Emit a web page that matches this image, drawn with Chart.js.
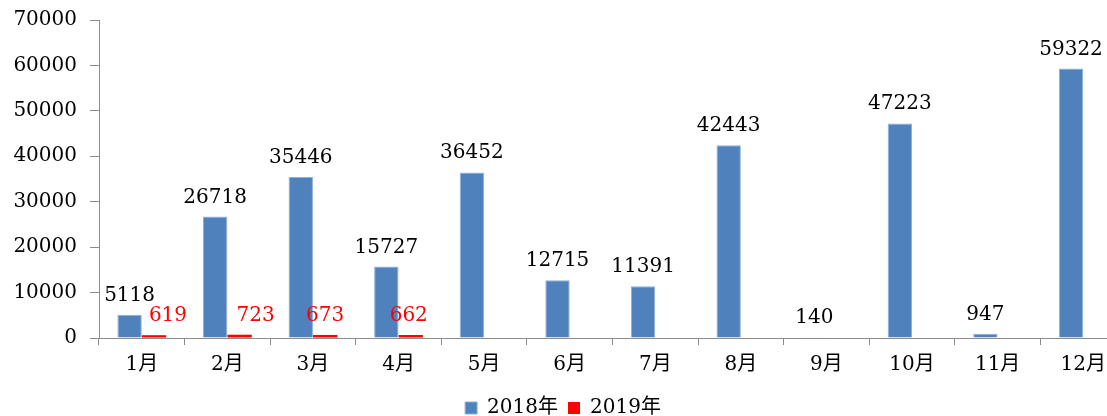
<!DOCTYPE html>
<html>
<head>
<meta charset="utf-8">
<script src="https://cdn.jsdelivr.net/npm/chart.js@4"></script>
<style>
  html, body { margin: 0; padding: 0; background: #fff; overflow: hidden; }
  #c { display: block; }
</style>
</head>
<body>
<canvas id="c" width="1130" height="416"></canvas>
<script>
const categories = ['1月','2月','3月','4月','5月','6月','7月','8月','9月','10月','11月','12月'];
const series2018 = [5118, 26718, 35446, 15727, 36452, 12715, 11391, 42443, 140, 47223, 947, 59322];
const series2019 = [619, 723, 673, 662, null, null, null, null, null, null, null, null];
const seriesNames = ['2018年', '2019年'];
const yTicks = [0, 10000, 20000, 30000, 40000, 50000, 60000, 70000];

const FONT = "'DejaVu Serif', 'Liberation Serif', 'Noto Sans CJK SC', serif";
const FSIZE = 20;

// small horizontal nudges for the red labels (as in the reference)
const redLabelDx = [14, 16, 0, -2];

const valueLabels = {
  id: 'valueLabels',
  afterDatasetsDraw(chart) {
    const ctx = chart.ctx;
    ctx.save();
    ctx.font = FSIZE + 'px ' + FONT;
    ctx.textAlign = 'center';
    ctx.textBaseline = 'alphabetic';
    chart.data.datasets.forEach((ds, di) => {
      const meta = chart.getDatasetMeta(di);
      meta.data.forEach((bar, i) => {
        const v = ds.data[i];
        if (v === null || v === undefined) return;
        ctx.fillStyle = di === 0 ? '#000000' : '#FF0000';
        const dx = di === 1 ? (redLabelDx[i] || 0) : 0;
        ctx.fillText(String(v), bar.x + dx, bar.y - 14);
      });
    });
    ctx.restore();
  }
};

new Chart(document.getElementById('c'), {
  type: 'bar',
  data: {
    labels: categories,
    datasets: [
      { label: seriesNames[0], data: series2018, backgroundColor: '#4F81BD', borderColor: '#8DB0DA', borderWidth: 1 },
      { label: seriesNames[1], data: series2019, backgroundColor: '#FF0000', borderWidth: 0 }
    ]
  },
  options: {
    responsive: false,
    animation: false,
    datasets: { bar: { barPercentage: 1.0, categoryPercentage: 0.57 } },
    layout: { padding: { left: 0, right: 4, top: 0, bottom: -12 } },
    plugins: {
      legend: {
        position: 'bottom',
        labels: {
          font: { family: FONT, size: FSIZE },
          color: '#000',
          boxWidth: 12,
          boxHeight: 12,
          padding: 10
        }
      },
      tooltip: { enabled: false }
    },
    scales: {
      x: {
        grid: { drawOnChartArea: false, drawTicks: true, tickLength: 7, color: '#8c8c8c', offset: true },
        border: { display: true, color: '#8c8c8c', width: 1 },
        ticks: { font: { family: FONT, size: FSIZE }, color: '#000', padding: 8 },
        afterFit(scale) { scale.height += 3; }
      },
      y: {
        min: 0,
        max: 70000,
        afterBuildTicks(scale) { scale.ticks = yTicks.map(v => ({ value: v })); },
        grid: { drawOnChartArea: false, drawTicks: true, tickLength: 9, color: '#8c8c8c' },
        border: { display: true, color: '#8c8c8c', width: 1 },
        ticks: { font: { family: FONT, size: FSIZE }, color: '#000', padding: 13, callback: (v) => String(v) },
        afterFit(scale) { scale.width = 99; scale.paddingTop = 20; }
      }
    }
  },
  plugins: [valueLabels]
});
</script>
</body>
</html>
